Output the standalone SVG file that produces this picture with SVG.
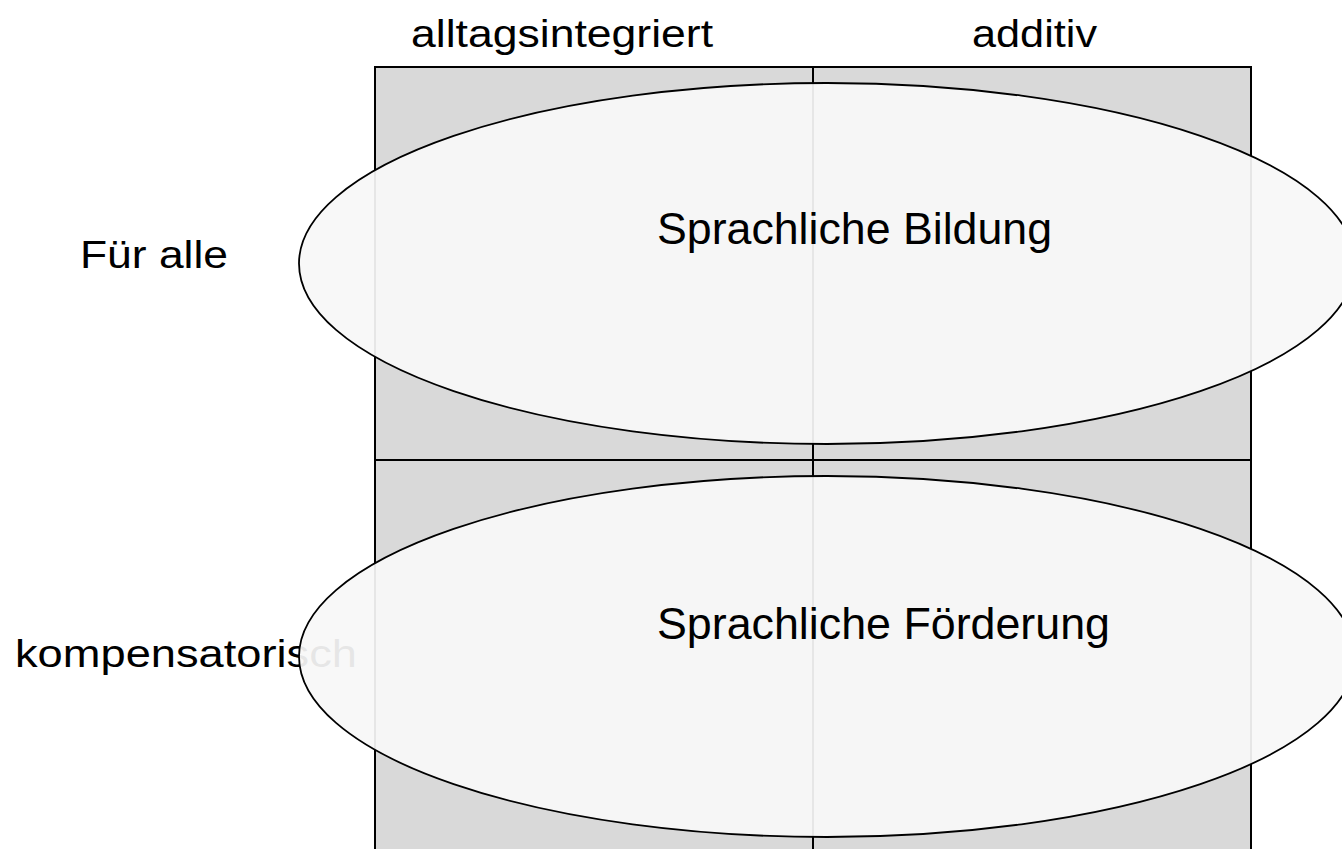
<svg xmlns="http://www.w3.org/2000/svg" width="1342" height="849" viewBox="0 0 1342 849">
<style>
.lbl{font-family:"Liberation Sans",Arial,sans-serif;fill:#000}
.hd{font-size:38px}
.el{font-size:45px}
.cell{fill:#d9d9d9;stroke:#000;stroke-width:2}
.ell{fill:#f7f7f7;fill-opacity:0.93;stroke:#000;stroke-width:1.8}
</style>
<rect width="1342" height="849" fill="#fff"/>
<g id="grid">
<rect class="cell" x="375" y="67" width="438" height="393"/>
<rect class="cell" x="813" y="67" width="438" height="393"/>
<rect class="cell" x="375" y="460" width="438" height="400"/>
<rect class="cell" x="813" y="460" width="438" height="400"/>
</g>
<g id="headers">
<text class="lbl hd" x="411" y="47" textLength="302" lengthAdjust="spacingAndGlyphs">alltagsintegriert</text>
<text class="lbl hd" x="972" y="47" textLength="125" lengthAdjust="spacingAndGlyphs">additiv</text>
<text class="lbl hd" x="80" y="268" textLength="148" lengthAdjust="spacingAndGlyphs">Für alle</text>
<text class="lbl hd" x="15" y="667" textLength="342" lengthAdjust="spacingAndGlyphs">kompensatorisch</text>
</g>
<g id="node-bildung">
<ellipse class="ell" cx="827" cy="263.5" rx="528" ry="180.5"/>
<text class="lbl el" x="657" y="244" textLength="395" lengthAdjust="spacingAndGlyphs">Sprachliche Bildung</text>
</g>
<g id="node-foerderung">
<ellipse class="ell" cx="827" cy="656.5" rx="528" ry="180.5"/>
<text class="lbl el" x="657" y="639" textLength="453" lengthAdjust="spacingAndGlyphs">Sprachliche Förderung</text>
</g>
<g id="connectors"/>
</svg>
